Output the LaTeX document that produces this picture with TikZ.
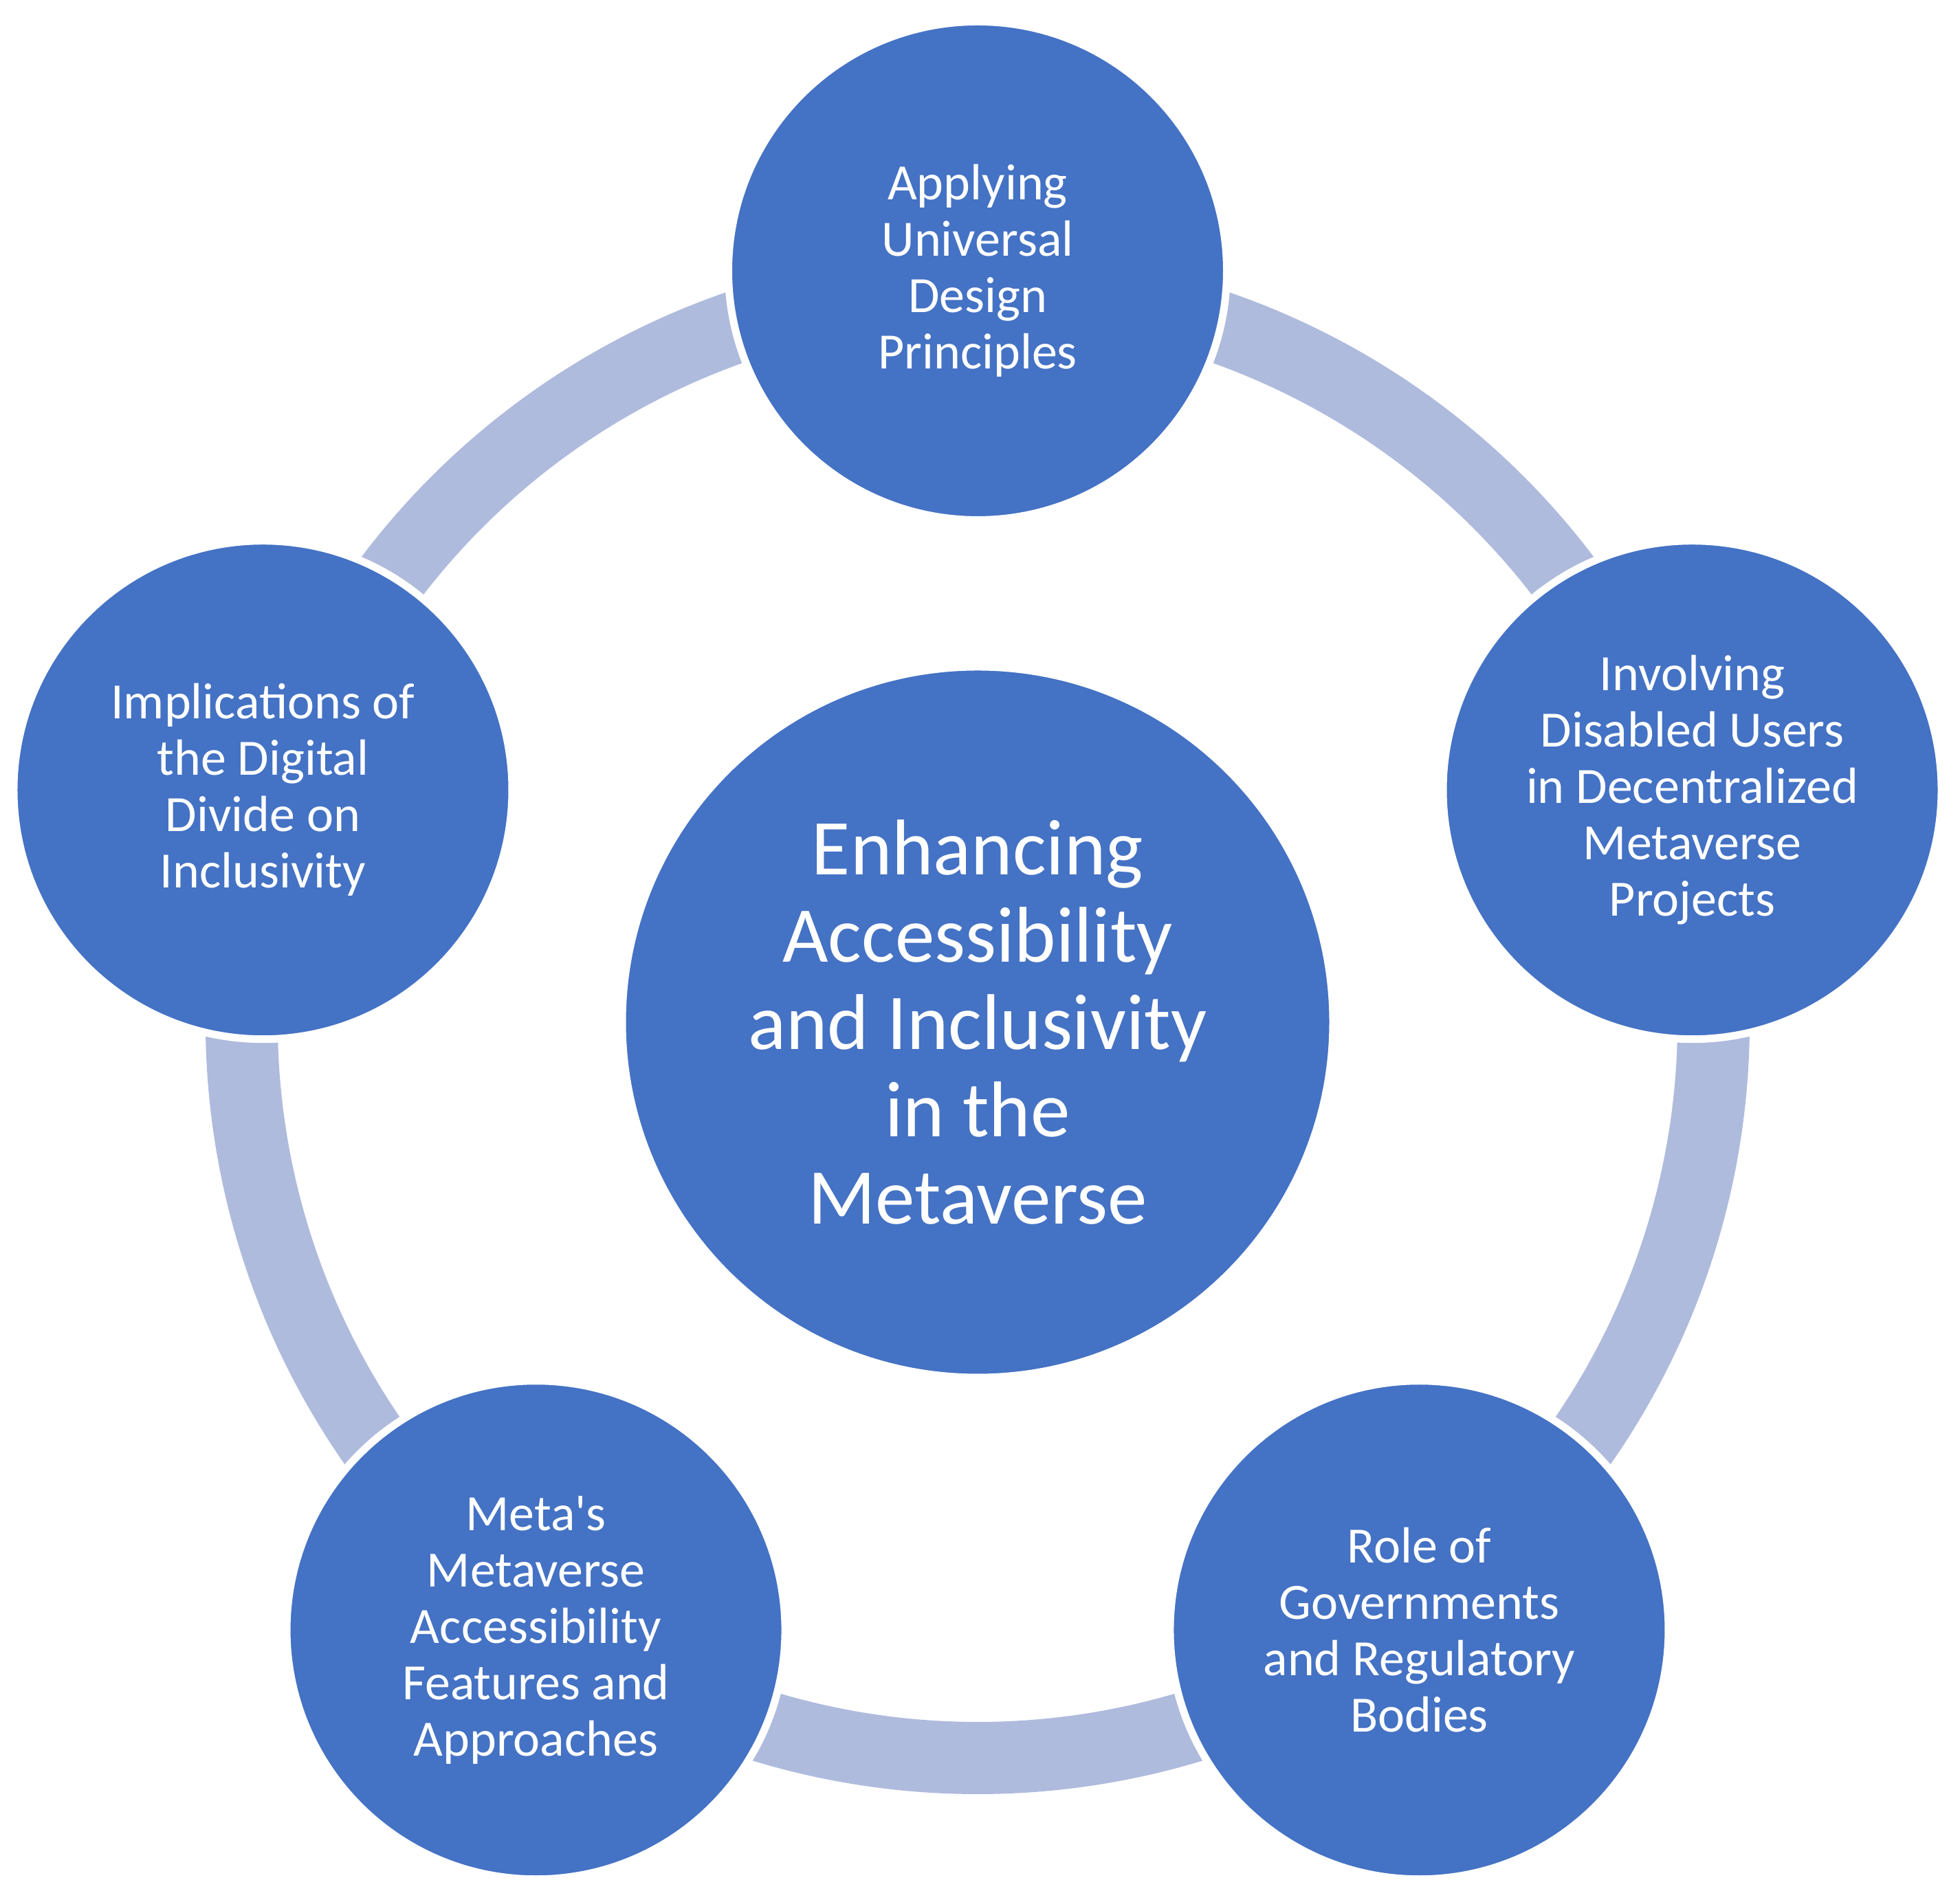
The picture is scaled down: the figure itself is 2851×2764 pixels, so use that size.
\documentclass[tikz,border=0pt]{standalone}
\usepackage{fontspec}
\setmainfont{Carlito}
\usetikzlibrary{backgrounds,calc}
\definecolor{nodeblue}{RGB}{68,114,196}
\definecolor{bandblue}{RGB}{175,187,221}
\begin{document}
\begin{tikzpicture}[x=1pt,y=1pt,
  outer/.style={circle,fill=nodeblue,draw=white,line width=11pt,minimum size=725pt,inner sep=0pt,
    text=white,align=center,font=\fontsize{74pt}{82pt}\selectfont},
  hubstyle/.style={circle,fill=nodeblue,draw=white,line width=4pt,minimum size=1027pt,inner sep=0pt,
    text=white,align=center,font=\fontsize{115pt}{127pt}\selectfont},
  band/.style={draw=bandblue,line width=105pt}]
\useasboundingbox (0,0) rectangle (2851,2764);
\node[hubstyle] (hub) at (1422,1277) {Enhancing\\Accessibility\\and Inclusivity\\in the\\Metaverse};
\node[outer] (n1) at ($(hub.center)+(90:1093)$) {Applying\\Universal\\Design\\Principles};
\node[outer] (n2) at ($(hub.center)+(18:1093)$) {Involving\\Disabled Users\\in Decentralized\\Metaverse\\Projects};
\node[outer] (n3) at ($(hub.center)+(-54:1093)$) {Role of\\Governments\\and Regulatory\\Bodies};
\node[outer] (n4) at ($(hub.center)+(-126:1093)$) {Meta\textquotesingle s\\Metaverse\\Accessibility\\Features and\\Approaches};
\node[outer] (n5) at ($(hub.center)+(162:1093)$) {Implications of\\the Digital\\Divide on\\Inclusivity};
\begin{scope}[on background layer]
  \draw[band] (hub.center) ++(90:1070.5) arc[start angle=90,end angle=162,radius=1070.5pt];
  \draw[band] (hub.center) ++(162:1070.5) arc[start angle=162,end angle=234,radius=1070.5pt];
  \draw[band] (hub.center) ++(234:1070.5) arc[start angle=234,end angle=306,radius=1070.5pt];
  \draw[band] (hub.center) ++(306:1070.5) arc[start angle=306,end angle=378,radius=1070.5pt];
  \draw[band] (hub.center) ++(18:1070.5) arc[start angle=18,end angle=90,radius=1070.5pt];
\end{scope}
\end{tikzpicture}
\end{document}
